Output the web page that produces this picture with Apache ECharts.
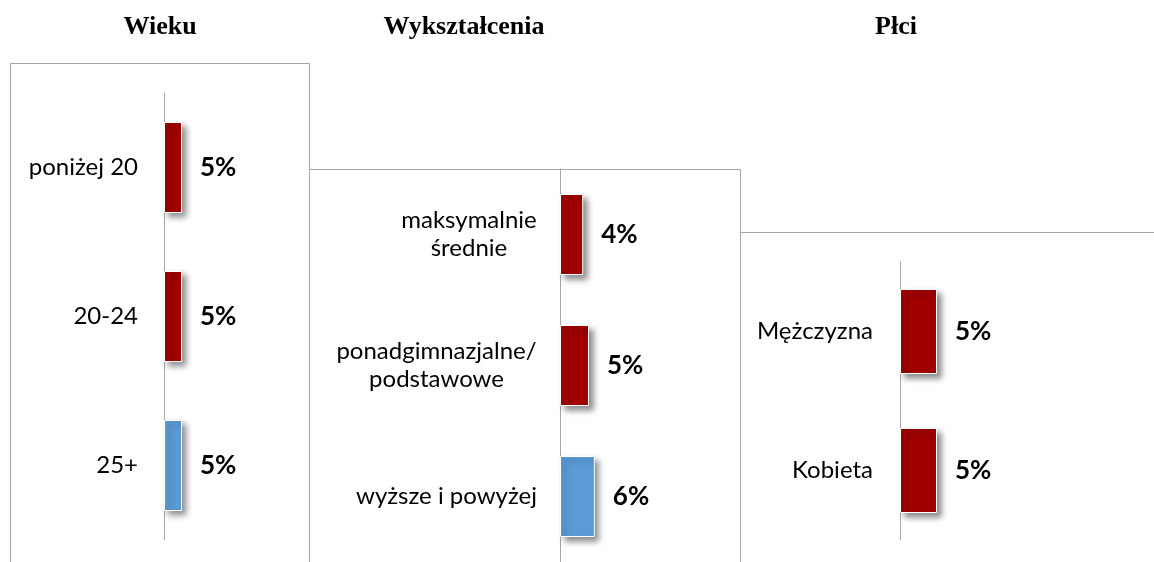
<!DOCTYPE html>
<html>
<head>
<meta charset="utf-8">
<script src="https://cdn.jsdelivr.net/npm/echarts@6/dist/echarts.min.js"></script>
<style>
  html, body { margin: 0; padding: 0; background: #fff; }
  #chart { width: 1154px; height: 562px; }
</style>
</head>
<body>
<div id="chart"></div>
<script>
// data
const titles = ["Wieku", "Wykształcenia", "Płci"];

const ageCategories = ["poniżej 20", "20-24", "25+"];
const ageValues = [5, 5, 5];

const eduCategories = ["maksymalnie\nśrednie", "ponadgimnazjalne/\npodstawowe", "wyższe i powyżej"];
const eduValues = [4, 5, 6];

const sexCategories = ["Mężczyzna", "Kobieta"];
const sexValues = [5, 5];

const red = "#a00000";
const blue = "#5b9bd5";
const lineGrey = "#a6a6a6";
const labelFont = "Lato";
const labelSize = 24;

// measure widest line, so multi-line labels are centred among themselves
const ctx = document.createElement("canvas").getContext("2d");
ctx.font = `${labelSize}px ${labelFont}`;
const widest = (c) => Math.ceil(Math.max(...c.split("\n").map((l) => ctx.measureText(l).width)));

const panels = [
	{ cats: ageCategories, vals: ageValues, grid: { left: 164, top: 93, width: 108, height: 447 }, max: 30, barWidth: 91, margin: 26, highlight: 2 },
	{ cats: eduCategories, vals: eduValues, grid: { left: 560, top: 169, width: 116, height: 400 }, max: 20, barWidth: 81, margin: 23, highlight: 2 },
	{ cats: sexCategories, vals: sexValues, grid: { left: 900, top: 262, width: 148, height: 278 }, max: 20, barWidth: 85, margin: 27, highlight: -1 },
];

const titleX = [155, 459, 891];

const chart = echarts.init(document.getElementById("chart"));

const option = {
	animation: false,
	backgroundColor: "#fff",
	title: titles.map((t, i) => ({
		text: t,
		left: titleX[i],
		top: 9,
		textAlign: "center",
		textStyle: {
			fontFamily: "Liberation Serif",
			fontWeight: "bold",
			fontSize: 26,
			color: "#000",
		},
	})),
	grid: panels.map((p) => ({ ...p.grid, containLabel: false })),
	xAxis: panels.map((p, i) => ({
		type: "value",
		gridIndex: i,
		min: 0,
		max: p.max,
		show: false,
	})),
	yAxis: panels.map((p, i) => ({
		type: "category",
		gridIndex: i,
		inverse: true,
		data: p.cats,
		axisLine: { show: true, lineStyle: { color: lineGrey, width: 1 } },
		axisTick: { show: false },
		splitLine: { show: false },
		axisLabel: {
			margin: p.margin,
			color: "#000",
			fontFamily: labelFont,
			fontSize: labelSize,
			lineHeight: 28,
			align: "right",
			formatter: (value) => {
				const lines = value.split("\n");
				if (lines.length === 1) return value;
				return lines.map((l) => `{w${widest(value)}|${l}}`).join("\n");
			},
			rich: Object.fromEntries(
				p.cats
					.filter((c) => c.includes("\n"))
					.map((c) => [
						`w${widest(c)}`,
						{ width: widest(c), align: "center", fontFamily: labelFont, fontSize: labelSize, lineHeight: 28, color: "#000" },
					]),
			),
		},
	})),
	series: panels.map((p, i) => ({
		type: "bar",
		xAxisIndex: i,
		yAxisIndex: i,
		barWidth: p.barWidth,
		data: p.vals.map((v, j) => ({
			value: v,
			itemStyle: { color: j === p.highlight ? blue : red },
		})),
		itemStyle: {
			borderColor: "#fff",
			borderWidth: 1,
			shadowColor: "rgba(0,0,0,0.45)",
			shadowBlur: 6,
			shadowOffsetX: 4,
			shadowOffsetY: 4,
		},
		label: {
			show: true,
			position: "right",
			distance: 18,
			formatter: "{c}%",
			color: "#000",
			fontFamily: labelFont,
			fontWeight: "bold",
			fontSize: 26,
		},
	})),
	graphic: [
		{
			type: "polyline",
			silent: true,
			shape: { points: [[10.5, 562], [10.5, 63.5], [309.5, 63.5], [309.5, 562]] },
			style: { stroke: lineGrey, lineWidth: 1, fill: null },
		},
		{
			type: "polyline",
			silent: true,
			shape: { points: [[309.5, 169.5], [740.5, 169.5], [740.5, 562]] },
			style: { stroke: lineGrey, lineWidth: 1, fill: null },
		},
		{
			type: "polyline",
			silent: true,
			shape: { points: [[740.5, 232.5], [1154, 232.5]] },
			style: { stroke: lineGrey, lineWidth: 1, fill: null },
		},
	],
};

chart.setOption(option);
</script>
</body>
</html>
